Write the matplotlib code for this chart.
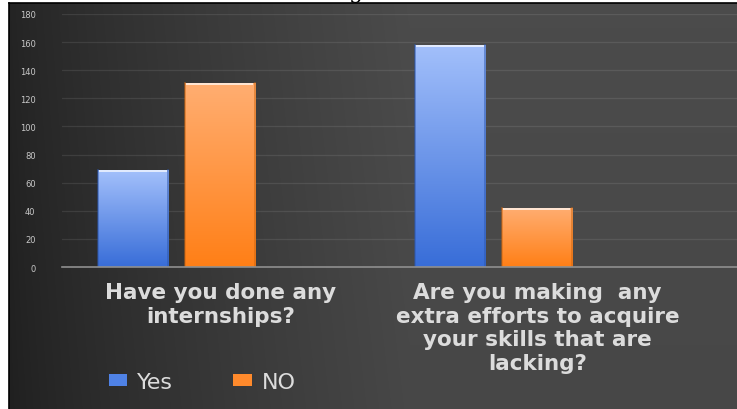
import numpy as np
import matplotlib.pyplot as plt
from matplotlib.colors import LinearSegmentedColormap, to_rgb
from matplotlib.patches import Patch

questions = ["Have you done any\ninternships?",
             "Are you making  any\nextra efforts to acquire\nyour skills that are\nlacking?"]
series = ["Yes", "NO"]
yes_counts = [69, 158]
no_counts = [131, 42]
yticks = list(range(0, 181, 20))

# bar colours: (top, bottom) of the vertical gradient
bar_colors = {"Yes": ("#a3c0fb", "#386dd8"), "NO": ("#ffae72", "#ff7f16")}
legend_colors = {"Yes": "#4f82e6", "NO": "#ff8a2c"}

fig = plt.figure(figsize=(7.37, 4.10), dpi=100)
fig.patch.set_facecolor("white")

# partial title letter peeking above the chart
fig.text(0.474, 1.0 + 2 / 410, "g", fontsize=16, color="black",
         ha="left", va="baseline", family="DejaVu Serif")

# dark gradient backdrop
bg = fig.add_axes([9 / 737, 0, 1 - 9 / 737, 1 - 4 / 410])
gx = np.linspace(0, 1, 400)
gy = np.linspace(0, 1, 200)
X, Y = np.meshgrid(gx, gy)
shade = 0.14 + 0.155 * np.clip(X / 0.55, 0, 1) ** 0.8 - 0.015 * (1 - Y)
bg.imshow(np.dstack([shade] * 3), extent=[0, 1, 0, 1], aspect="auto",
          origin="lower", interpolation="bilinear")
bg.set_xticks([])
bg.set_yticks([])
for side, sp in bg.spines.items():
    sp.set_visible(side in ("left", "top"))
    sp.set_color("black")
    sp.set_linewidth(1.2)

ax = fig.add_axes([62 / 737, 1 - 268 / 410, 1 - 62 / 737, (268 - 15) / 410])
ax.patch.set_alpha(0)

x = np.arange(len(questions))
width = 0.221
bars_yes = ax.bar(x - 0.276, yes_counts, width, color="none", zorder=3)
bars_no = ax.bar(x - 0.003, no_counts, width, color="none", zorder=3)

def fill_gradient(bars, top, bottom):
    cmap = LinearSegmentedColormap.from_list("g", [bottom, top])
    for b in bars:
        x0, y0 = b.get_x(), b.get_y()
        w, h = b.get_width(), b.get_height()
        grad = np.linspace(0, 1, 256).reshape(-1, 1)
        img = ax.imshow(grad, cmap=cmap, extent=[x0, x0 + w, y0, y0 + h],
                        origin="lower", aspect="auto", zorder=3)
        img.set_clip_path(b)
        # soft bevel on the sides and a bright rim on top
        edge = tuple(c * 0.8 for c in to_rgb(bottom))
        ax.plot([x0, x0], [y0, y0 + h], color=edge, lw=1.2, alpha=0.6, zorder=4)
        ax.plot([x0 + w, x0 + w], [y0, y0 + h], color=edge, lw=1.2, alpha=0.6, zorder=4)
        ax.plot([x0 + 0.004, x0 + w - 0.004], [y0 + h - 0.5, y0 + h - 0.5],
                color="white", lw=1.4, alpha=0.7, zorder=4, solid_capstyle="butt")

fill_gradient(bars_yes, *bar_colors["Yes"])
fill_gradient(bars_no, *bar_colors["NO"])

ax.set_ylim(0, 180)
ax.set_xlim(-0.5, 1.629)
ax.set_yticks(yticks)
ax.tick_params(axis="y", length=0, pad=19, labelsize=6, labelcolor="#c8c8c8")
ax.grid(axis="y", color="white", alpha=0.09, lw=0.9, zorder=0)

# question labels under the axis
ax.set_xticks(x, questions)
ax.tick_params(axis="x", length=0, pad=11)
for t in ax.get_xticklabels():
    t.set(fontsize=15.5, fontweight="bold", color="#dcdcdc",
          family="DejaVu Sans", linespacing=1.22, multialignment="center")

for side in ("top", "right", "left"):
    ax.spines[side].set_visible(False)
ax.spines["bottom"].set_color("#8f8f8f")
ax.spines["bottom"].set_linewidth(1.2)
ax.spines["bottom"].set_zorder(5)

handles = [Patch(facecolor=legend_colors[s], edgecolor="none") for s in series]
fig.legend(handles, series, loc="center left", bbox_to_anchor=(98 / 737, 1 - 383 / 410),
           ncol=2, frameon=False, borderpad=0, handlelength=0.82, handleheight=0.42,
           handletextpad=0.45, columnspacing=2.7,
           prop={"family": "DejaVu Sans", "size": 16}, labelcolor="#dcdcdc")

fig.savefig("out.png", dpi=100, facecolor=fig.get_facecolor())
